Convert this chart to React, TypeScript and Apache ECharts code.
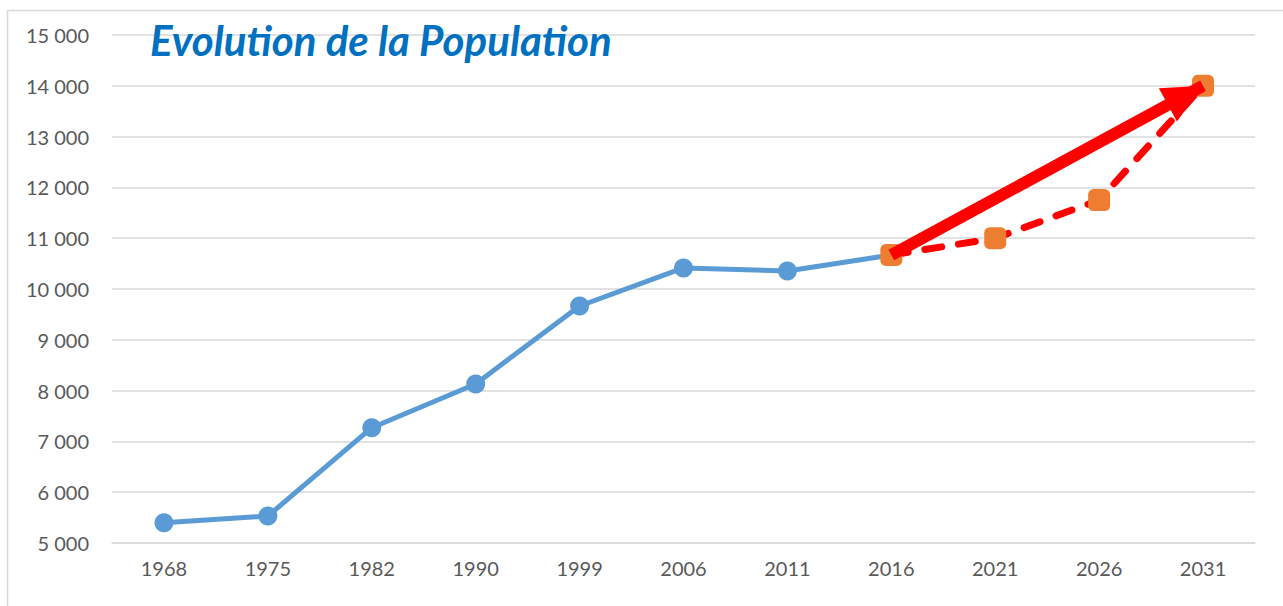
import React, { useEffect, useRef } from "react";
import * as echarts from "echarts";

const years = ["1968", "1975", "1982", "1990", "1999", "2006", "2011", "2016", "2021", "2026", "2031"];
const population = [5400, 5530, 7270, 8130, 9665, 10415, 10355, 10670, null, null, null];
const projection = [null, null, null, null, null, null, null, 10670, 11000, 11750, 14000];
const arrowStart = ["2016", 10670];
const arrowEnd = ["2031", 14000];
const yMin = 5000;
const yMax = 15000;
const yStep = 1000;
const title = "Evolution de la Population";

const fmt = (v: number) => {
  const s = String(Math.round(v));
  return s.replace(/\B(?=(\d{3})+(?!\d))/g, " ");
};

export default function App() {
  const ref = useRef<HTMLDivElement>(null);
  useEffect(() => {
    if (!ref.current) return;
    const chart = echarts.init(ref.current, null, { renderer: "svg" });
    chart.setOption({
      animation: false,
      backgroundColor: "#ffffff",
      textStyle: { fontFamily: "Lato, sans-serif" },
      graphic: [
        {
          type: "rect",
          shape: { x: 7.5, y: 10.5, width: 1300, height: 640 },
          style: { fill: "none", stroke: "#d9d9d9", lineWidth: 1.5 },
          silent: true,
          z: -10,
        },
        {
          type: "text",
          left: 150,
          top: 19,
          z: 10,
          style: {
            text: title,
            fill: "#0070c0",
            font: "italic bold 42px Lato, sans-serif",
          },
        },
      ],
      grid: { left: 112, right: 28, top: 35, bottom: 63, containLabel: false },
      xAxis: {
        type: "category",
        data: years,
        boundaryGap: true,
        axisLine: { show: true, lineStyle: { color: "#d9d9d9", width: 1.5 } },
        axisTick: { show: false },
        axisLabel: { color: "#595959", fontSize: 20, margin: 15, fontFamily: "Lato, sans-serif" },
      },
      yAxis: {
        type: "value",
        min: yMin,
        max: yMax,
        interval: yStep,
        axisLine: { show: false },
        axisTick: { show: false },
        splitLine: { lineStyle: { color: "#d9d9d9", width: 1.5 } },
        axisLabel: {
          color: "#595959",
          fontSize: 20,
          margin: 23,
          fontFamily: "Lato, sans-serif",
          formatter: (v: number) => fmt(v),
        },
      },
      series: [
        {
          name: "Population",
          type: "line",
          data: population,
          lineStyle: { color: "#5b9bd5", width: 5 },
          itemStyle: { color: "#5b9bd5" },
          symbol: "circle",
          symbolSize: 19,
          z: 3,
        },
        {
          name: "Projection",
          type: "line",
          data: projection,
          lineStyle: { color: "#ff0000", width: 7, type: [17, 17], cap: "round" },
          itemStyle: { color: "#ed7d31" },
          symbol: "roundRect",
          symbolSize: 22,
          z: 4,
        },
        {
          name: "Tendance",
          type: "line",
          data: [],
          z: 5,
          markLine: {
            silent: true,
            symbol: ["none", "triangle"],
            symbolSize: [38, 40],
            symbolOffset: [0, [0, 20]],
            label: { show: false },
            lineStyle: { color: "#ff0000", width: 12, type: "solid" },
            data: [[{ coord: arrowStart }, { coord: arrowEnd }]],
          },
        },
      ],
    });
    return () => chart.dispose();
  }, []);
  return (
    <div
      ref={ref}
      style={{ position: "fixed", left: 0, top: 0, width: 1283, height: 606 }}
    />
  );
}
